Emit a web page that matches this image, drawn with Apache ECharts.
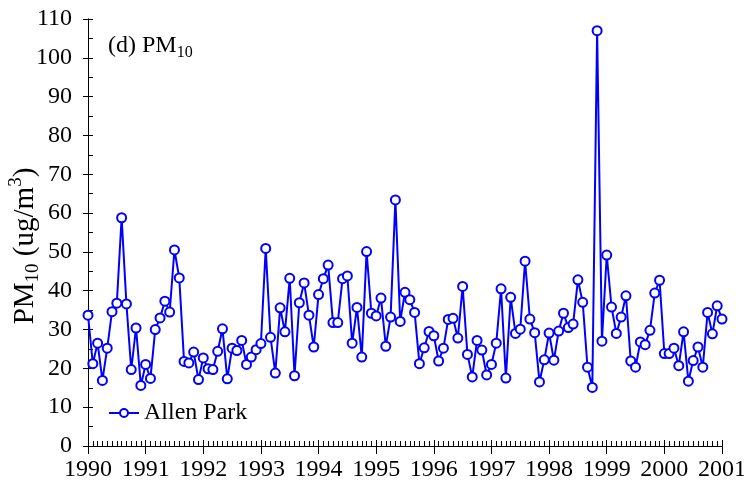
<!DOCTYPE html>
<html>
<head>
<meta charset="utf-8">
<script src="https://cdn.jsdelivr.net/npm/echarts@6/dist/echarts.min.js"></script>
<style>
  html, body { margin: 0; padding: 0; background: #fff; }
  #chart { width: 744px; height: 491px; }
</style>
</head>
<body>
<div id="chart"></div>
<script>
// Monthly PM10 means at Allen Park, January 1990 through January 2001
const startYear = 1990;
const endYear = 2001;
const seriesName = 'Allen Park';
const pm10 = [
  33.7, 21.2, 26.5, 16.9, 25.2, 34.6, 36.8, 58.8, 36.6, 19.7, 30.4, 15.6,
  21.0, 17.4, 30.0, 33.0, 37.3, 34.5, 50.5, 43.3, 21.8, 21.4, 24.2, 17.1,
  22.7, 19.9, 19.7, 24.4, 30.2, 17.3, 25.2, 24.6, 27.2, 21.0, 22.9, 24.8,
  26.4, 50.9, 28.0, 18.8, 35.6, 29.4, 43.2, 18.1, 36.9, 42.0, 33.7, 25.5,
  39.0, 43.1, 46.6, 31.8, 31.8, 43.1, 43.8, 26.5, 35.7, 22.9, 50.1, 34.2,
  33.5, 38.1, 25.7, 33.2, 63.4, 32.1, 39.6, 37.7, 34.4, 21.2, 25.3, 29.5,
  28.4, 21.9, 25.2, 32.6, 32.9, 27.8, 41.1, 23.6, 17.8, 27.2, 24.7, 18.3,
  21.0, 26.5, 40.5, 17.5, 38.3, 29.0, 30.1, 47.6, 32.7, 29.2, 16.5, 22.2,
  29.1, 22.1, 29.6, 34.2, 30.5, 31.4, 42.8, 37.0, 20.3, 15.1, 107.0, 27.0,
  49.2, 35.8, 29.0, 33.2, 38.7, 21.9, 20.3, 26.8, 26.1, 29.8, 39.4, 42.7,
  23.8, 23.8, 25.2, 20.7, 29.4, 16.7, 22.0, 25.5, 20.3, 34.4, 28.9, 36.1,
  32.7
];
const yMin = 0;
const yMax = 110;
const yStep = 10;

// month index -> decimal year
const points = pm10.map((v, i) => [startYear + i / 12, v]);

const serif = 'Liberation Serif, Times New Roman, serif';
const blue = '#0000ff';
const fs = 24;

const baseX = {
  type: 'value', min: startYear, max: endYear, interval: 1,
  splitLine: { show: false },
  axisLine: { lineStyle: { color: '#000', width: 1 } }
};
const baseY = {
  type: 'value', min: yMin, max: yMax, interval: yStep,
  splitLine: { show: false },
  axisLine: { show: true, lineStyle: { color: '#000', width: 1 } }
};

const chart = echarts.init(document.getElementById('chart'), null, { renderer: 'canvas' });
chart.setOption({
  animation: false,
  backgroundColor: '#fff',
  grid: { left: 88, right: 22, top: 19, bottom: 45, containLabel: false, outerBoundsMode: 'none' },
  title: {
    text: '{a|(d) PM}{s|10}',
    left: 103, top: 26,
    textStyle: {
      rich: {
        a: { fontFamily: serif, fontSize: fs, fontWeight: 'normal', color: '#000', lineHeight: 30, verticalAlign: 'middle' },
        s: { fontFamily: serif, fontSize: 16, fontWeight: 'normal', color: '#000', lineHeight: 17, verticalAlign: 'bottom' }
      }
    }
  },
  // vertical axis title with sub- and superscript
  graphic: [{
    type: 'text',
    x: 25, y: 246,
    rotation: Math.PI / 2,
    style: {
      text: '{a|PM}{s|10}{a| (ug/m}{p|3}{a|)}',
      align: 'center',
      verticalAlign: 'middle',
      rich: {
        a: { fontFamily: serif, fontSize: 29, fill: '#000', lineHeight: 36, verticalAlign: 'middle' },
        s: { fontFamily: serif, fontSize: 19, fill: '#000', lineHeight: 20, verticalAlign: 'bottom' },
        p: { fontFamily: serif, fontSize: 19, fill: '#000', lineHeight: 20, verticalAlign: 'top' }
      }
    }
  }],
  legend: {
    data: [seriesName],
    left: 103, top: 396,
    itemWidth: 30, itemHeight: 10, itemGap: 6,
    textStyle: { fontFamily: serif, fontSize: fs, color: '#000' }
  },
  xAxis: [
    Object.assign({}, baseX, {
      position: 'bottom',
      axisTick: { show: true, inside: true, length: 6, lineStyle: { color: '#000' } },
      minorTick: { show: true, splitNumber: 12, length: 5, lineStyle: { color: '#000' } },
      axisLabel: {
        margin: 12, fontFamily: serif, fontSize: fs, color: '#000',
        showMinLabel: true, showMaxLabel: true,
        formatter: v => String(Math.round(v))
      }
    }),
    Object.assign({}, baseX, {
      position: 'bottom',
      axisTick: { show: true, inside: false, length: 8, lineStyle: { color: '#000' } },
      axisLabel: { show: false }
    })
  ],
  yAxis: [
    Object.assign({}, baseY, {
      position: 'left',
      axisTick: { show: true, inside: true, length: 5, lineStyle: { color: '#000' } },
      minorTick: { show: true, splitNumber: 2, length: 5, lineStyle: { color: '#000' } },
      axisLabel: { margin: 16, fontFamily: serif, fontSize: fs, color: '#000' }
    }),
    Object.assign({}, baseY, {
      position: 'left',
      axisTick: { show: true, inside: false, length: 5, lineStyle: { color: '#000' } },
      axisLabel: { show: false }
    })
  ],
  series: [{
    name: seriesName,
    type: 'line',
    xAxisIndex: 0,
    yAxisIndex: 0,
    data: points,
    symbol: 'emptyCircle',
    symbolSize: 9,
    showAllSymbol: true,
    lineStyle: { color: blue, width: 2 },
    itemStyle: { color: blue, borderColor: blue, borderWidth: 1.2 }
  }]
});
</script>
</body>
</html>
